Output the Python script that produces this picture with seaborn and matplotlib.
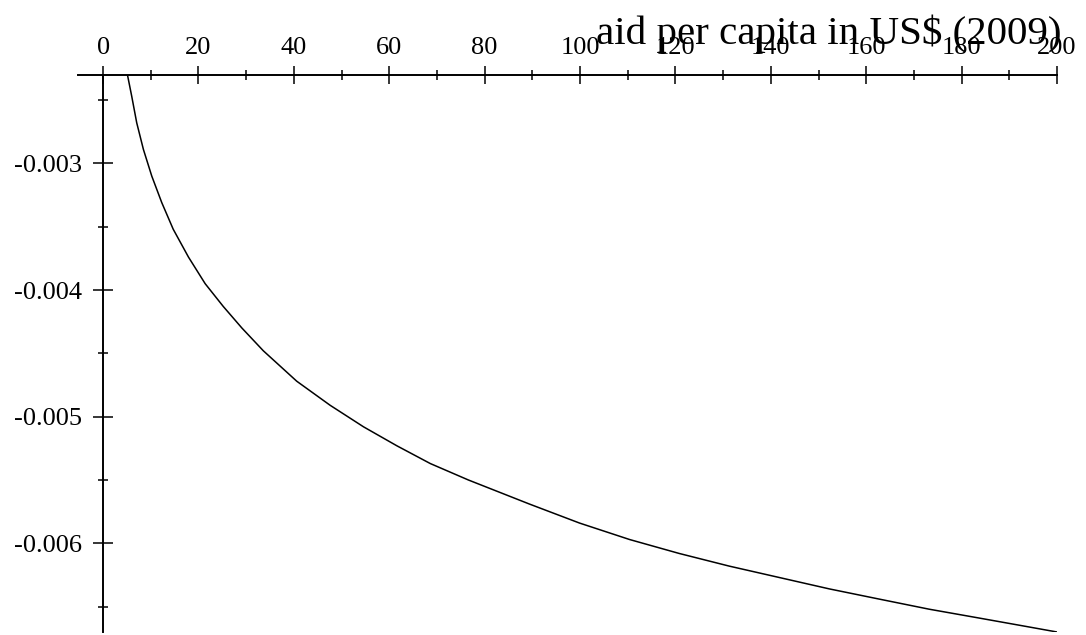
import matplotlib
matplotlib.use("Agg")
import matplotlib.pyplot as plt
import seaborn as sns
import pandas as pd
from matplotlib.ticker import MultipleLocator, FuncFormatter

# values
aid = [5.1, 6.0, 7.05, 8.45, 10.2, 12.3, 14.7, 17.9, 21.4, 25.2, 29.1, 33.6,
       40.6, 47.6, 54.6, 61.6, 68.6, 76.6, 89.4, 99.9, 110.4, 120.8, 131.3,
       141.8, 152.3, 162.7, 173.2, 183.7, 194.1, 200.0]
effect = [-0.00230, -0.00247, -0.00268, -0.00289, -0.00310, -0.00331, -0.00352,
          -0.00374, -0.00395, -0.00413, -0.00430, -0.00448, -0.00472, -0.00491,
          -0.00508, -0.00523, -0.00537, -0.00550, -0.00569, -0.00584, -0.00597,
          -0.00608, -0.00618, -0.00627, -0.00636, -0.00644, -0.00652, -0.00659,
          -0.00666, -0.00670]
x_label = "aid per capita in US\\$ (2009)"

df = pd.DataFrame({"aid": aid, "effect": effect})

sns.set_style("white")
plt.rcParams["font.family"] = ["Liberation Serif", "DejaVu Serif"]
plt.rcParams["axes.unicode_minus"] = False

fig = plt.figure(figsize=(10.86, 6.35), dpi=100)
ax = fig.add_axes([78.3 / 1086, 1 - 632 / 635, (1057 - 78.3) / 1086, (632 - 74.7) / 635])

sns.lineplot(data=df, x="aid", y="effect", ax=ax, color="black", linewidth=1.1,
             estimator=None, sort=False)

ax.set_xlim(-5.2, 200)
ax.set_ylim(-0.0067, -0.0023)

# Maple-like axes: x axis along the top, y axis through x = 0
for side in ["right", "bottom"]:
    ax.spines[side].set_visible(False)
ax.spines["left"].set_position(("data", 0))
for side in ["left", "top"]:
    ax.spines[side].set_color("black")
    ax.spines[side].set_linewidth(1.4)

ax.xaxis.tick_top()
ax.yaxis.tick_left()
ax.xaxis.set_major_locator(MultipleLocator(20))
ax.xaxis.set_minor_locator(MultipleLocator(10))
ax.yaxis.set_major_locator(MultipleLocator(0.001))
ax.yaxis.set_minor_locator(MultipleLocator(0.0005))
ax.yaxis.set_major_formatter(FuncFormatter(lambda v, p: "%.3f" % v))

ax.tick_params(axis="x", which="both", top=True, bottom=False, labeltop=True,
               labelbottom=False)
ax.tick_params(axis="y", which="both", left=True, right=False)
ax.tick_params(axis="x", which="major", direction="inout", length=13, width=1.1,
               labelsize=19, pad=5, colors="black")
ax.tick_params(axis="x", which="minor", direction="inout", length=7, width=1.1,
               colors="black")
ax.tick_params(axis="y", which="major", direction="inout", length=14.4, width=1.1,
               labelsize=19, pad=8, colors="black")
ax.tick_params(axis="y", which="minor", direction="inout", length=7, width=1.1,
               colors="black")

ax.set_xlabel("")
ax.set_ylabel("")

fig.text(1062 / 1086, 1 - 44 / 635, x_label, ha="right", va="baseline",
         fontsize=29.5, color="black")

fig.savefig("out.png", dpi=100)
